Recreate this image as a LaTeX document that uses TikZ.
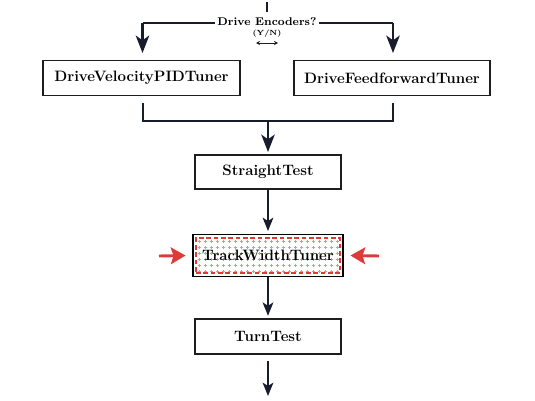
\documentclass[tikz,border=0pt]{standalone}
\usetikzlibrary{arrows.meta}
\definecolor{navy}{RGB}{24,28,44}
\definecolor{boxline}{RGB}{30,30,30}
\definecolor{redarr}{RGB}{222,58,58}
\definecolor{pinkdot}{RGB}{240,140,140}
\begin{document}
\begin{tikzpicture}[x=0.75pt,y=-0.75pt,
  stepbox/.style={draw=boxline,line width=0.8pt,fill=white,inner sep=0pt,
    font=\fontsize{11.3}{13}\selectfont\bfseries,minimum height={35*0.75pt}},
  conn/.style={draw=navy,line width=2.1pt},
  arr/.style={draw=navy,line width=1.5pt,-{Stealth[length=10pt,width=8pt,inset=2.5pt]}},
  bigarr/.style={draw=navy,line width=2.1pt,-{Stealth[length=13pt,width=10pt,inset=3.5pt]}},
  redarrow/.style={draw=redarr,line width=2.2pt,-{Stealth[length=11pt,width=12.5pt,inset=2pt]}}]
\useasboundingbox (0,0) rectangle (535,400);

% boxes
\node[stepbox,minimum width={197*0.75pt}] (dv) at (141.5,78) {DriveVelocityPIDTuner};
\node[stepbox,minimum width={196*0.75pt}] (df) at (392,78) {DriveFeedforwardTuner};
\node[stepbox,minimum width={146*0.75pt},minimum height={34*0.75pt}] (st) at (268,172) {StraightTest};
\node[stepbox,minimum width={146*0.75pt}] (tt) at (268,336.5) {TurnTest};

% TrackWidthTuner highlighted box
\node[draw=black,line width=1.2pt,fill=white,inner sep=0pt,
  minimum width={150*0.75pt},minimum height={42*0.75pt}] (tw) at (268,255.5) {};
\foreach \i in {0,...,23}{
  \foreach \j in {0,...,5}{
    \draw[pinkdot,line width=0.3pt] ({199+\i*6-1.5},{241+\j*6}) -- ({199+\i*6+1.5},{241+\j*6});
    \draw[pinkdot,line width=0.3pt] ({199+\i*6},{241+\j*6-1.5}) -- ({199+\i*6},{241+\j*6+1.5});
  }
}
\node[draw=redarr,dash pattern=on 3.5pt off 2pt,line width=0.8pt,inner sep=0pt,
  minimum width={144*0.75pt},minimum height={35*0.75pt}] (twin) at (268,255.5) {};
\node[font=\fontsize{11.3}{13}\selectfont\bfseries] (twt) at (268,255.5) {TrackWidthTuner};

% top decision
\coordinate (s0) at (267,2);
\coordinate (s1) at (267,12);
\draw[conn] (s0) -- (s1);
\coordinate (tl) at (142.5,23);
\coordinate (tr) at (393,23);
\draw[conn] (tl) -- (tr);
\draw[bigarr] (tl) -- (142.5,53);
\draw[bigarr] (tr) -- (393,53);
\node[fill=white,font=\bfseries\fontsize{8.4}{10}\selectfont,inner sep=2pt] (lbl) at (267,22) {Drive Encoders?};
\node[font=\bfseries\fontsize{5.6}{7}\selectfont,inner sep=0pt] (yn) at (267,34) {(Y/N)};
\coordinate (da) at (256,43);
\coordinate (db) at (278,43);
\draw[navy,line width=0.6pt,{Stealth[length=3pt,width=3pt]}-{Stealth[length=3pt,width=3pt]}] (da) -- (db);

% merge
\coordinate (m1) at (143,103);
\coordinate (m2) at (143,121);
\coordinate (m3) at (393,121);
\coordinate (m4) at (393,103);
\coordinate (mc) at (268,121);
\draw[conn] (m1) -- (m2) -- (m3) -- (m4);
\draw[bigarr] (mc) -- (268,152);

% chain
\draw[arr] (st.south) -- ([yshift=2pt]tw.north);
\draw[arr] (tw.south) -- ([yshift=2pt]tt.north);
\coordinate (endp) at (268,396);
\draw[arr] ([yshift=-5pt]tt.south) -- (endp);

% red arrows
\coordinate (la) at (159,256);
\coordinate (ra) at (379,256);
\draw[redarrow] (la) -- ([xshift=-5pt]tw.west);
\draw[redarrow] (ra) -- ([xshift=5pt]tw.east);
\end{tikzpicture}
\end{document}
